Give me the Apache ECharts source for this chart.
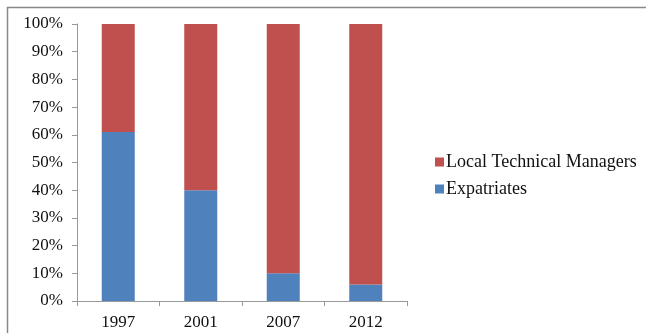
<!DOCTYPE html>
<html><head><meta charset="utf-8">
<script src="https://cdn.jsdelivr.net/npm/echarts@6/dist/echarts.min.js"></script>
<style>html,body{margin:0;padding:0;background:#fff}#c{width:646px;height:333px}</style>
</head><body><div id="c"></div>
<script>
const categories = ['1997', '2001', '2007', '2012'];
const expatriates = [61, 40, 10, 6];
const localManagers = [39, 60, 90, 94];
const seriesNames = ['Local Technical Managers', 'Expatriates'];

const chart = echarts.init(document.getElementById('c'), null, {renderer: 'canvas'});
const font = 'Liberation Serif';
chart.setOption({
  animation: false,
  graphic: [
    {type: 'line', shape: {x1: 7, y1: 7.5, x2: 646, y2: 7.5}, style: {stroke: '#888', lineWidth: 1.5}},
    {type: 'line', shape: {x1: 7.5, y1: 7, x2: 7.5, y2: 333}, style: {stroke: '#888', lineWidth: 1.5}}
  ],
  grid: {left: 77, top: 24, width: 330, height: 277, containLabel: false},
  legend: {
    orient: 'vertical', left: 430, top: 148, itemGap: 9,
    itemWidth: 9, itemHeight: 9, icon: 'rect',
    data: seriesNames,
    textStyle: {fontFamily: font, fontSize: 18, color: '#111', padding: [0, 0, 0, -3]}
  },
  xAxis: {
    type: 'category', data: categories,
    axisLine: {lineStyle: {color: '#999'}},
    axisTick: {show: true, length: 5, lineStyle: {color: '#999'}},
    axisLabel: {fontFamily: font, fontSize: 17, color: '#111', margin: 13}
  },
  yAxis: {
    type: 'value', min: 0, max: 100, interval: 10,
    axisLine: {show: true, lineStyle: {color: '#999'}},
    axisTick: {show: true, length: 5, lineStyle: {color: '#999'}},
    splitLine: {show: false},
    axisLabel: {fontFamily: font, fontSize: 17, color: '#111', margin: 14, formatter: '{value}%'}
  },
  series: [
    {name: 'Expatriates', type: 'bar', stack: 's', barWidth: '40%', data: expatriates, itemStyle: {color: '#4F81BD'}},
    {name: 'Local Technical Managers', type: 'bar', stack: 's', barWidth: '40%', data: localManagers, itemStyle: {color: '#C0504D'}}
  ]
});
</script></body></html>
